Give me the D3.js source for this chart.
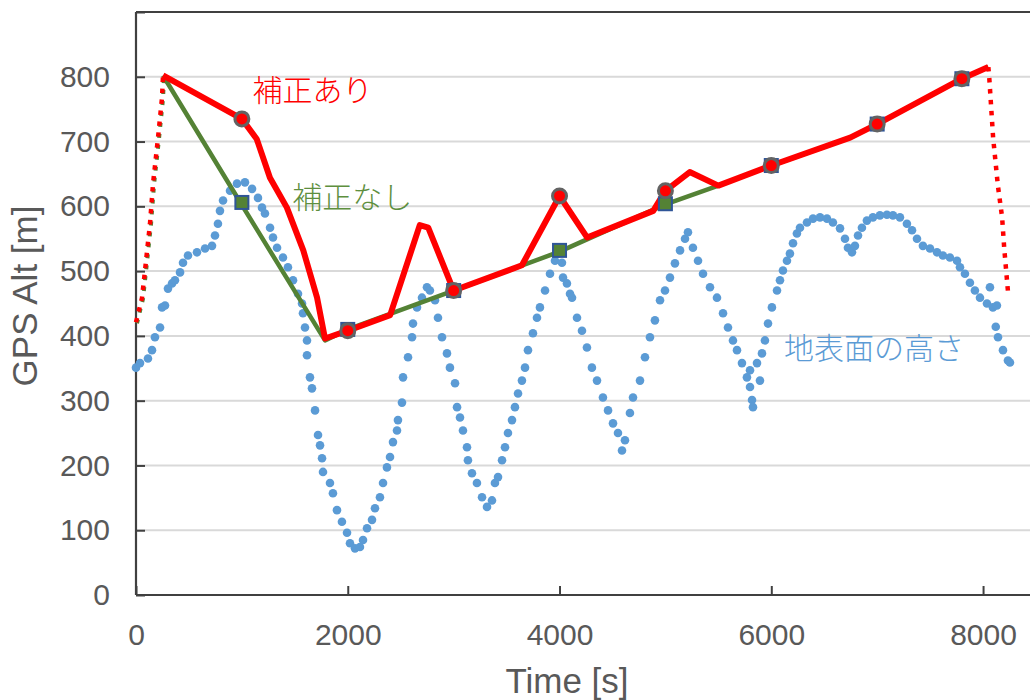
<!DOCTYPE html>
<html><head><meta charset="utf-8">
<script src="https://cdn.jsdelivr.net/npm/d3@7"></script>
<style>
body{margin:0;background:#fff;}
svg{display:block;}
.tick text{font-family:"Liberation Sans",Arial,sans-serif;}
</style></head>
<body><svg id="c" width="1030" height="700"></svg>
<script>
// ---- data ----
const xTicks = [0, 2000, 4000, 6000, 8000];
const yTicks = [0, 100, 200, 300, 400, 500, 600, 700, 800];

// terrain (地表面の高さ)
const terrainT = [0,38,113,151,179,227,246,274,302,340,
368,416,444,491,576,652,718,746,774,793,
822,888,954,1029,1096,1152,1190,1218,1266,1294,
1332,1388,1435,1483,1530,1568,1577,1596,1615,1615,
1643,1662,1691,1719,1738,1757,1766,1832,1860,1898,
1945,1993,2021,2068,2115,2144,2182,2229,2257,2304,
2333,2370,2399,2427,2465,2474,2512,2522,2569,2607,
2616,2654,2701,2748,2776,2824,2852,2890,2937,2965,
3013,3032,3060,3088,3126,3135,3173,3220,3268,3315,
3362,3390,3419,3457,3485,3513,3551,3579,3608,3645,
3674,3702,3749,3787,3815,3863,3910,3957,3985,4023,
4033,4070,4099,4118,4165,4212,4259,4306,4354,4410,
4458,4505,4552,4590,4618,4665,4694,4760,4807,4854,
4901,4949,4996,5043,5090,5138,5185,5213,5260,5308,
5355,5421,5487,5544,5591,5638,5676,5723,5770,5799,
5818,5827,5799,5865,5893,5912,5940,5969,6006,6054,
6082,6110,6148,6176,6205,6242,6271,6337,6394,6460,
6526,6582,6649,6696,6724,6762,6790,6819,6856,6903,
6960,7026,7092,7149,7215,7281,7329,7376,7432,7499,
7565,7621,7687,7754,7782,7829,7876,7923,7971,8037,
8065,8093,8131,8120,8141,8188,8235,8254];
const terrainAlt = [351,358,365,378,398,413,444,447,473,481,
486,498,513,524,529,535,539,555,573,593,
609,624,635,637,627,613,598,589,567,552,
536,521,506,486,465,450,435,413,393,370,
336,319,285,247,231,211,190,173,157,131,
113,96,80,72,74,85,103,116,134,151,
173,197,213,236,254,270,297,336,367,398,
419,444,459,475,470,455,428,398,373,351,
327,290,274,254,228,208,188,173,151,136,
146,173,182,208,228,250,270,290,311,331,
351,378,404,428,444,470,496,516,527,513,
490,481,465,459,428,408,382,351,331,305,
285,265,250,223,239,281,305,331,367,398,
424,455,470,490,512,532,550,560,536,516,
496,475,459,435,413,393,378,358,336,321,
301,290,347,358,331,373,393,419,444,470,
486,501,516,527,543,558,567,575,581,583,
581,575,566,550,536,529,539,555,567,578,
583,586,587,586,583,573,563,550,539,535,
529,524,521,516,506,496,482,470,459,450,
475,444,447,414,398,378,362,359];

// climb / descent (dotted) segments
const climbT = [0, 57, 85, 132, 161, 208, 246, 255];
const climbAlt = [421, 459, 501, 573, 635, 706, 768, 802];
const descentT = [8050, 8060, 8095, 8140, 8180, 8200, 8235];
const descentAlt = [815, 795, 706, 632, 583, 535, 469];

// 補正あり (corrected)
const corrT = [255, 1000, 1140, 1265, 1425, 1580, 1710, 1785, 2000, 2400, 2680, 2760, 3000, 3645, 4000, 4260, 4885, 5000, 5230, 5500, 6000, 6745, 7000, 7800, 8050];
const corrAlt = [802, 735, 704, 644, 598, 532, 459, 396, 408, 432, 571, 567, 470, 509, 616, 552, 593, 624, 653, 632, 663, 706, 727, 797, 815];

// 補正なし (uncorrected)
const rawT = [255, 1000, 1785, 2000, 3000, 4000, 5000, 5500, 6000, 6745, 7000, 7800, 8050];
const rawAlt = [802, 602, 393, 410, 470, 530, 603, 632, 663, 706, 727, 797, 815];

// markers at check points
const markT = [1000, 2000, 3000, 4000, 5000, 6000, 7000, 7800];
const corrMarkAlt = [735, 408, 470, 616, 624, 663, 727, 797];
const rawMarkAlt = [606, 410, 470, 532, 604, 663, 727, 797];

const labels = [
  {text: "補正あり", t: 1100, alt: 762, color: "#ff0000"},
  {text: "補正なし", t: 1475, alt: 597, color: "#5e8f3f"},
  {text: "地表面の高さ", t: 6120, alt: 365, color: "#5b9bd5"}
];

// ---- chart ----
const svg = d3.select("#c");
const x = d3.scaleLinear().domain([0, 8500]).range([136, 1036]);
const y = d3.scaleLinear().domain([0, 900]).range([595, 12]);
const tickColor = "#595959";
const sans = "'Liberation Sans', Arial, sans-serif";
const cjk = "'Noto Sans CJK JP', sans-serif";

// gridlines
svg.append("g").selectAll("line").data(yTicks.filter(d => d > 0)).join("line")
  .attr("x1", x(0)).attr("x2", 1030)
  .attr("y1", d => y(d)).attr("y2", d => y(d))
  .attr("stroke", "#d9d9d9").attr("stroke-width", 2);

// top border
svg.append("line").attr("x1", x(0)).attr("x2", 1030).attr("y1", y(900)).attr("y2", y(900))
  .attr("stroke", "#404040").attr("stroke-width", 2);

// axes
const xAxis = svg.append("g").attr("transform", `translate(0,${y(0)})`)
  .call(d3.axisBottom(x).tickValues(xTicks).tickSize(-9).tickPadding(29).tickFormat(d3.format("d")));
const yAxis = svg.append("g").attr("transform", `translate(${x(0)},0)`)
  .call(d3.axisLeft(y).tickValues(yTicks.concat([900])).tickSize(-9).tickPadding(26).tickFormat(d => d === 900 ? "" : d));
[xAxis, yAxis].forEach(a => {
  a.select(".domain").attr("stroke", "#404040").attr("stroke-width", 2.2);
  a.selectAll(".tick line").attr("stroke", "#404040").attr("stroke-width", 2);
  a.selectAll(".tick text").attr("fill", tickColor).style("font-size", "30px").style("font-family", sans);
});
xAxis.select(".domain").attr("d", `M${x(0)},0H1030`);
yAxis.select(".domain").attr("d", `M0,${y(0)}V${y(900)}`);

// axis titles
svg.append("text").attr("x", 567).attr("y", 693).attr("text-anchor", "middle")
  .attr("fill", tickColor).style("font-family", sans).style("font-size", "35px").text("Time [s]");
svg.append("text").attr("transform", "translate(37,296) rotate(-90)").attr("text-anchor", "middle")
  .attr("fill", tickColor).style("font-family", sans).style("font-size", "35px").text("GPS Alt [m]");

// terrain scatter
const terrain = terrainT.map((t, i) => [t, terrainAlt[i]]);
svg.append("g").selectAll("circle").data(terrain).join("circle")
  .attr("cx", d => x(d[0])).attr("cy", d => y(d[1])).attr("r", 4.3)
  .attr("fill", "#5b9bd5");

const line = d3.line().x(d => x(d[0])).y(d => y(d[1]));
const climb = climbT.map((t, i) => [t, climbAlt[i]]);
const descent = descentT.map((t, i) => [t, descentAlt[i]]);
const corr = corrT.map((t, i) => [t, corrAlt[i]]);
const raw = rawT.map((t, i) => [t, rawAlt[i]]);

// uncorrected (green)
svg.append("path").datum(climb).attr("d", line).attr("fill", "none")
  .attr("stroke", "#548235").attr("stroke-width", 4).attr("stroke-dasharray", "4,7").attr("transform", "translate(1,1)");
svg.append("path").datum(raw).attr("d", line).attr("fill", "none")
  .attr("stroke", "#548235").attr("stroke-width", 4.5).attr("stroke-linejoin", "round");

// corrected (red)
svg.append("path").datum(climb).attr("d", line).attr("fill", "none")
  .attr("stroke", "#ff0000").attr("stroke-width", 4.5).attr("stroke-dasharray", "4.5,6.5");
svg.append("path").datum(descent).attr("d", line).attr("fill", "none")
  .attr("stroke", "#ff0000").attr("stroke-width", 4.5).attr("stroke-dasharray", "4.5,6.5");
svg.append("path").datum(corr).attr("d", line).attr("fill", "none")
  .attr("stroke", "#ff0000").attr("stroke-width", 6).attr("stroke-linejoin", "round");

// markers
const rawMarks = markT.map((t, i) => [t, rawMarkAlt[i]]);
const corrMarks = markT.map((t, i) => [t, corrMarkAlt[i]]);
svg.append("g").selectAll("rect").data(rawMarks).join("rect")
  .attr("x", d => x(d[0]) - 6.5).attr("y", d => y(d[1]) - 6.5).attr("width", 13).attr("height", 13)
  .attr("fill", "#548235").attr("stroke", "#2f5597").attr("stroke-width", 2);
svg.append("g").selectAll("circle").data(corrMarks).join("circle")
  .attr("cx", d => x(d[0])).attr("cy", d => y(d[1])).attr("r", 7)
  .attr("fill", "#ff0000").attr("stroke", "#636363").attr("stroke-width", 3);

// series labels
svg.append("g").selectAll("text").data(labels).join("text")
  .attr("x", d => x(d.t)).attr("y", d => y(d.alt))
  .attr("fill", d => d.color).style("font-family", cjk).style("font-weight", 300)
  .style("font-size", "30px").text(d => d.text);
</script></body></html>
